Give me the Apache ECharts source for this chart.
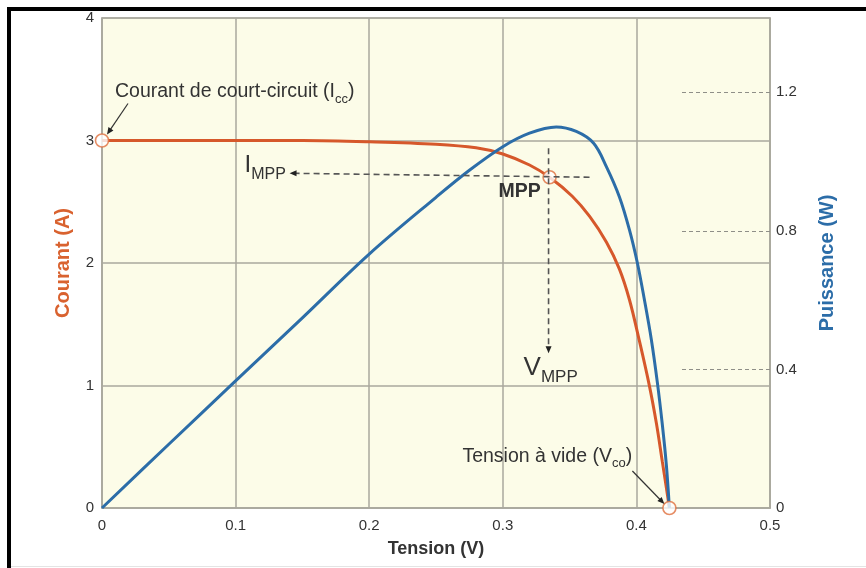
<!DOCTYPE html>
<html><head><meta charset="utf-8">
<script src="https://cdn.jsdelivr.net/npm/echarts@6/dist/echarts.min.js"></script>
<style>html,body{margin:0;padding:0;background:#fff}#c{width:866px;height:568px}</style>
</head><body><div id="c"></div>
<script>
// ---- data ----
const xTicks = [0, 0.1, 0.2, 0.3, 0.4, 0.5];
const leftTicks = [0, 1, 2, 3, 4];
const rightTicks = [0, 0.4, 0.8, 1.2];
const voltsI  = [0, 0.05, 0.1, 0.15, 0.2, 0.25, 0.28, 0.3, 0.32, 0.335, 0.352, 0.365, 0.3776, 0.3873, 0.3948, 0.4022, 0.4097, 0.4150, 0.4194, 0.4224, 0.4247];
const current = [3.00, 3.00, 3.00, 3.00, 2.99, 2.97, 2.94, 2.89, 2.80, 2.70, 2.545, 2.38, 2.17, 1.95, 1.70, 1.366, 0.999, 0.689, 0.379, 0.167, 0];
const voltsP  = [0, 0.05, 0.1, 0.15, 0.2, 0.25, 0.275, 0.3, 0.32, 0.34, 0.355, 0.368, 0.3776, 0.3873, 0.3948, 0.4007, 0.406, 0.4112, 0.4157, 0.4194, 0.4224, 0.4247];
const power   = [0, 0.184, 0.367, 0.549, 0.733, 0.897, 0.975, 1.043, 1.082, 1.100, 1.087, 1.053, 0.985, 0.898, 0.803, 0.708, 0.601, 0.486, 0.362, 0.241, 0.125, 0];
const keyNames = ['Icc', 'MPP', 'Vco'];
const keyV = [0, 0.335, 0.4247];
const keyI = [3.00, 2.70, 0];

const FONT = '"Liberation Sans", Arial, sans-serif';
const RED = '#d6582b', BLUE = '#2c6da8', GRIDC = '#aaa99e';

const chart = echarts.init(document.getElementById('c'), null, {renderer: 'canvas'});
const option = {
  animation: false,
  backgroundColor: '#ffffff',
  grid: {left: 102, right: 96, top: 18, bottom: 60, show: true, backgroundColor: '#fcfce8', borderColor: GRIDC, borderWidth: 1.5},
  xAxis: {
    type: 'value', min: xTicks[0], max: xTicks[xTicks.length - 1], interval: 0.1,
    name: 'Tension (V)', nameLocation: 'middle', nameGap: 32,
    nameTextStyle: {fontFamily: FONT, fontWeight: 'bold', fontSize: 18, color: '#333'},
    axisLine: {show: true, lineStyle: {color: GRIDC, width: 1.5}},
    axisTick: {show: false},
    axisLabel: {margin: 10, fontFamily: FONT, fontSize: 15, color: '#333'},
    splitLine: {show: true, lineStyle: {color: GRIDC, width: 1.5}}
  },
  yAxis: [{
    type: 'value', min: leftTicks[0], max: leftTicks[leftTicks.length - 1], interval: 1,
    name: 'Courant (A)', nameLocation: 'middle', nameGap: 29, nameRotate: 90,
    nameTextStyle: {fontFamily: FONT, fontWeight: 'bold', fontSize: 20, color: '#d9622f'},
    axisLine: {show: true, lineStyle: {color: GRIDC, width: 1.5}},
    axisTick: {show: false},
    axisLabel: {margin: 8, fontFamily: FONT, fontSize: 15, color: '#333'},
    splitLine: {show: true, lineStyle: {color: GRIDC, width: 1.5}}
  }, {
    type: 'value', position: 'right', min: 0, max: 1.4146,
    name: 'Puissance (W)', nameLocation: 'middle', nameGap: 47, nameRotate: 90,
    nameTextStyle: {fontFamily: FONT, fontWeight: 'bold', fontSize: 20, color: BLUE},
    axisLine: {show: true, lineStyle: {color: GRIDC, width: 1.5}},
    axisTick: {show: true, inside: true, length: 88, customValues: rightTicks.slice(1),
      lineStyle: {color: '#8f8f88', width: 1, type: [4, 3]}},
    axisLabel: {margin: 6, fontFamily: FONT, fontSize: 15, color: '#333', customValues: rightTicks},
    splitLine: {show: false}
  }],
  series: [{
    type: 'line', name: 'Courant', yAxisIndex: 0, showSymbol: false, smooth: 0.35,
    lineStyle: {color: RED, width: 3}, itemStyle: {color: RED}, z: 3,
    data: voltsI.map((v, i) => [v, current[i]])
  }, {
    type: 'line', name: 'Puissance', yAxisIndex: 1, showSymbol: false, smooth: 0.35,
    lineStyle: {color: BLUE, width: 3}, itemStyle: {color: BLUE}, z: 3,
    data: voltsP.map((v, i) => [v, power[i]])
  }, {
    type: 'scatter', yAxisIndex: 0, symbol: 'circle', symbolSize: 13, clip: false, z: 6,
    itemStyle: {color: '#ffffff', borderColor: '#e0703f', borderWidth: 1.6},
    data: keyV.map((v, i) => ({name: keyNames[i], value: [v, keyI[i]]}))
  }]
};
chart.setOption(option);

// ---- annotations ----
const cv = document.createElement('canvas').getContext('2d');
function tw(text, size, weight) { cv.font = `${weight || 'normal'} ${size}px "Liberation Sans", Arial, sans-serif`; return cv.measureText(text).width; }
function compose(x, baseline, parts) {
  const out = [];
  let cx = x;
  parts.forEach(p => {
    const w = p.weight || 'normal';
    out.push({type: 'text', x: cx, y: baseline + (p.dy || 0) - 0.34 * p.size, z: 50,
      style: {text: p.t, fontFamily: FONT, fontSize: p.size, fontWeight: w, fill: '#333', align: 'left', verticalAlign: 'middle'}});
    cx += tw(p.t, p.size, w);
  });
  return out;
}
function arrowHead(tx, ty, ang, len, wid) {
  const bx = tx - len * Math.cos(ang), by = ty - len * Math.sin(ang);
  const nx = -Math.sin(ang) * wid / 2, ny = Math.cos(ang) * wid / 2;
  return {type: 'polygon', z: 50, shape: {points: [[tx, ty], [bx + nx, by + ny], [bx - nx, by - ny]]}, style: {fill: '#222'}};
}
function arrowLine(x1, y1, x2, y2, dashed) {
  const ang = Math.atan2(y2 - y1, x2 - x1);
  const len = 7;
  return [
    {type: 'line', z: 49, shape: {x1, y1, x2: x2 - len * 0.8 * Math.cos(ang), y2: y2 - len * 0.8 * Math.sin(ang)},
      style: {stroke: dashed ? '#555' : '#333', lineWidth: dashed ? 1.6 : 1.2, lineDash: dashed ? [6, 4] : null}},
    arrowHead(x2, y2, ang, len, 6)
  ];
}
const px = (v, i) => chart.convertToPixel({xAxisIndex: 0, yAxisIndex: 0}, [v, i]);
const pI = px(keyV[0], keyI[0]);
const pM = px(keyV[1], keyI[1]);
const pV = px(keyV[2], keyI[2]);

let els = [];
// black frame (top and left)
els.push({type: 'rect', z: 60, shape: {x: 7, y: 7, width: 859, height: 4}, style: {fill: '#000'}});
els.push({type: 'rect', z: 60, shape: {x: 7, y: 7, width: 4, height: 561}, style: {fill: '#000'}});
els.push({type: 'rect', z: 60, shape: {x: 11, y: 566, width: 855, height: 1}, style: {fill: '#e4e4e4'}});

// Icc
els = els.concat(compose(pI[0] + 13, pI[1] - 42, [{t: 'Courant de court-circuit (I', size: 19.5}, {t: 'cc', size: 13, dy: 5}, {t: ')', size: 19.5}]));
els = els.concat(arrowLine(pI[0] + 26, pI[1] - 37, pI[0] + 5, pI[1] - 6, false));
// Vco
els = els.concat(compose(pV[0] - 207, pV[1] - 45, [{t: 'Tension \u00e0 vide (V', size: 19.5}, {t: 'co', size: 13, dy: 5}, {t: ')', size: 19.5}]));
els = els.concat(arrowLine(pV[0] - 37, pV[1] - 37, pV[0] - 5, pV[1] - 4, false));
// MPP
els = els.concat(compose(pM[0] - 51, pM[1] + 21, [{t: 'MPP', size: 19.5, weight: 'bold'}]));
els = els.concat(arrowLine(pM[0] + 40, pM[1], pM[0] - 260, pM[1] - 4, true));
els = els.concat(arrowLine(pM[0] - 1, pM[1] - 29, pM[0] - 1, pM[1] + 176, true));
els = els.concat(compose(pM[0] - 305, pM[1] - 4, [{t: 'I', size: 24}, {t: 'MPP', size: 16, dy: 7}]));
els = els.concat(compose(pM[0] - 26, pM[1] + 199, [{t: 'V', size: 26}, {t: 'MPP', size: 17, dy: 7}]));

chart.setOption({graphic: els});
</script></body></html>
